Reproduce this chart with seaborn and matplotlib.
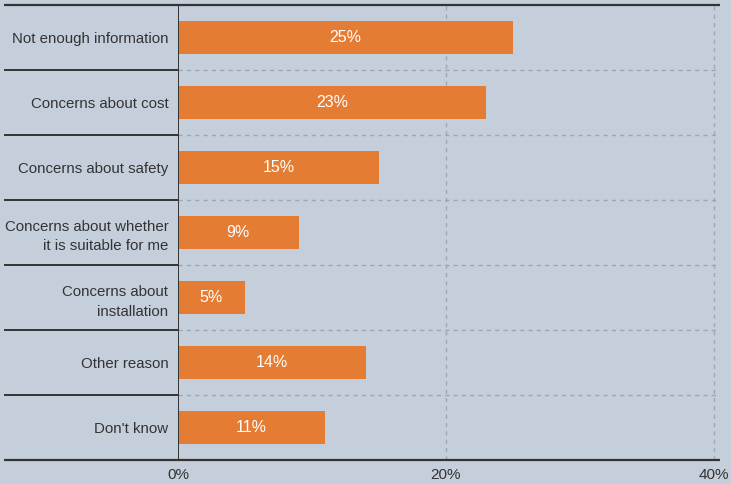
import matplotlib
matplotlib.use("Agg")
import matplotlib.pyplot as plt
import seaborn as sns
import pandas as pd

reasons = [
    "Not enough information",
    "Concerns about cost",
    "Concerns about safety",
    "Concerns about whether\nit is suitable for me",
    "Concerns about\ninstallation",
    "Other reason",
    "Don't know",
]
shares = [25, 23, 15, 9, 5, 14, 11]
tick_values = [0, 20, 40]
tick_labels = ["0%", "20%", "40%"]

bg = "#c5cfdb"
bar_color = "#e57c34"
ink = "#333333"
grid_color = "#9ea7b0"

sns.set_theme(style="white")
plt.rcParams["font.family"] = ["Liberation Sans", "DejaVu Sans"]

df = pd.DataFrame({"reason": reasons, "share": shares})

W, H = 731, 484
fig = plt.figure(figsize=(W / 100, H / 100), dpi=100)
fig.patch.set_facecolor(bg)
ax = fig.add_axes([178 / W, 24 / H, (720 - 178) / W, (460 - 5) / H])
ax.set_facecolor(bg)

sns.barplot(data=df, x="share", y="reason", orient="h", color=bar_color,
            width=0.5, saturation=1, linewidth=0, edgecolor=bar_color,
            ax=ax, zorder=3)

ax.set_xlim(0, 40.45)
ax.set_ylim(len(reasons) - 0.5, -0.5)

for s in ax.spines.values():
    s.set_visible(False)

# vertical dashed gridlines
for v in tick_values[1:]:
    ax.axvline(v, color=grid_color, lw=1, ls=(0, (3, 3)), zorder=1)

# left extension of horizontal rules into the label column (axes fraction)
left_ext = -(178 - 4) / (720 - 178)
trans = ax.get_yaxis_transform()
for k in range(len(reasons) - 1):
    y = k + 0.5
    ax.plot([left_ext, 0], [y, y], transform=trans, color=ink, lw=1.4,
            clip_on=False, solid_capstyle="butt")
    ax.plot([0, 1], [y, y], transform=trans, color=grid_color, lw=1,
            ls=(0, (3, 3)), zorder=1)

# top rule and bottom axis
for y in (-0.5, len(reasons) - 0.5):
    ax.plot([left_ext, 1], [y, y], transform=trans, color=ink, lw=1.6,
            clip_on=False, solid_capstyle="butt", zorder=4)
ax.axvline(0, color=ink, lw=1.4, zorder=4)

# category labels
ax.set_yticks(range(len(reasons)))
ax.set_yticklabels(reasons, fontsize=10.8, color=ink, linespacing=1.5)
ax.tick_params(axis="y", length=0, pad=7)
ax.set_ylabel("")

ax.set_xticks(tick_values)
ax.set_xticklabels(tick_labels, fontsize=11, color=ink)
ax.tick_params(axis="x", length=0, pad=6)
ax.set_xlabel("")

# value labels inside bars
for i, v in enumerate(shares):
    ax.text(v / 2, i, f"{v}%", ha="center", va="center", color="white",
            fontsize=11.5, zorder=5)

fig.savefig("out.png", dpi=100, facecolor=bg)
